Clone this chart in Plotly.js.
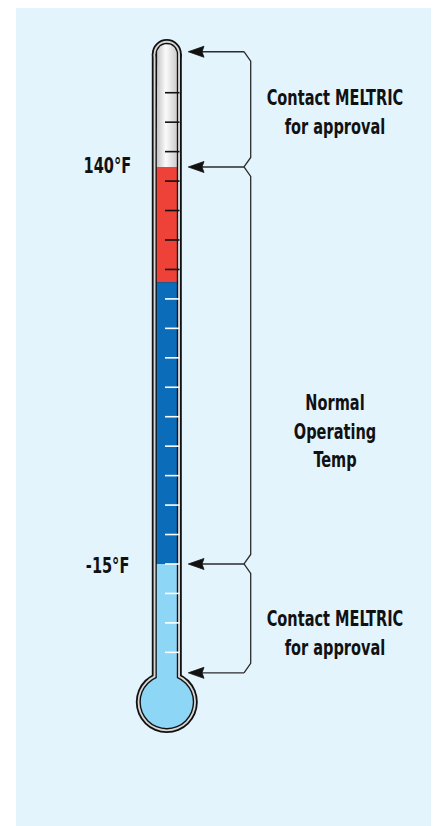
<!DOCTYPE html>
<html><head><meta charset="utf-8">
<script src="https://cdn.plot.ly/plotly-3.0.1.min.js"></script>
<style>
html,body{margin:0;padding:0;background:#fff;}
#chart{width:436px;height:826px;}
/* condensed look for the label type */
#chart .annotation-text{transform-box:fill-box;transform-origin:center;transform:scaleX(0.735);}
</style>
</head><body><div id="chart"></div>
<script>
// ---------------- data ----------------
const boundaryTemps = [140, -15];
const boundaryLabels = ['140°F', '-15°F'];
const bracketEdges = [185, 140, -15, -57.5];
const zoneLabels = ['Contact MELTRIC<br>for approval', 'Normal<br>Operating<br>Temp', 'Contact MELTRIC<br>for approval'];
const fluidTops = [140, 95, -15];          // top of red, blue, light-blue column (°F)
const fluidColors = ['#EE4137', '#0B6DB9', '#8ED6F6'];
const tickTemps = [169, 157.5, 146, 134.5, 123, 111.5, 100, 88.5, 77, 65.5, 54, 42.5, 31, 19.5, 8, -3.5, -15, -26.5, -38, -49.5];

// ---------------- geometry / style ----------------
const W = 436, H = 826;
const yRange = [-117.3, 205.2];
const PX = H / (yRange[1] - yRange[0]);   // pixels per °F
const cx = 166.8;
const capT = 184.1;     // centre of rounded top
const bulbT = -68.9;    // centre of bulb
const tubeR = [15, 13.2, 11.3, 10];
const bulbR = [31, 29.2, 27.4, 26];
const wallCols = ['#111111', '#d6d6d6', '#111111'];
const font = '"DejaVu Sans Condensed", "Liberation Sans Narrow", sans-serif';

const shapes = [];
// background panel
shapes.push({type:'rect', xref:'paper', yref:'paper', x0:16/W, x1:431/W, y0:0, y1:1-8/H,
  fillcolor:'#E3F4FC', line:{width:0}, layer:'below'});

function circ(tc, r, col) {
  return {type:'circle', xref:'x', yref:'y', x0:cx-r, x1:cx+r, y0:tc-r/PX, y1:tc+r/PX,
    fillcolor:col, line:{width:0}, layer:'below'};
}
function rect(x0, x1, y0, y1, col, layer) {
  return {type:'rect', xref:'x', yref:'y', x0, x1, y0, y1, fillcolor:col, line:{width:0}, layer: layer || 'below'};
}
// wall layers
for (let i = 0; i < 3; i++) {
  shapes.push(rect(cx - tubeR[i], cx + tubeR[i], bulbT, capT, wallCols[i]));
  shapes.push(circ(capT, tubeR[i], wallCols[i]));
  shapes.push(circ(bulbT, bulbR[i], wallCols[i]));
}
// fluid columns
const ir = tubeR[3];
const fluidBottoms = [fluidTops[1], fluidTops[2], bulbT];
for (let i = 0; i < fluidTops.length; i++) {
  shapes.push(rect(cx - ir, cx + ir, fluidBottoms[i], fluidTops[i], fluidColors[i]));
}
shapes.push(circ(bulbT, bulbR[3], fluidColors[2]));

// ticks
tickTemps.forEach(t => {
  const col = t > fluidTops[1] ? '#111111' : '#ffffff';
  shapes.push({type:'line', xref:'x', yref:'y', x0:165, x1:179.5, y0:t, y1:t,
    line:{color:col, width:1.6}, layer:'above'});
});

// brackets and arrows
const bx0 = 244, bx1 = 250.7, bd = 9.5 / PX;
for (let i = 0; i < bracketEdges.length - 1; i++) {
  const a = bracketEdges[i], b = bracketEdges[i + 1];
  shapes.push({type:'path', xref:'x', yref:'y',
    path:`M ${bx0},${a} L ${bx1},${a - bd} L ${bx1},${b + bd} L ${bx0},${b}`,
    line:{color:'#2b2b2b', width:1.3}, layer:'above'});
}
bracketEdges.forEach(t => {
  shapes.push({type:'line', xref:'x', yref:'y', x0:200, x1:bx0, y0:t, y1:t,
    line:{color:'#2b2b2b', width:1.3}, layer:'above'});
  const h = 5.5 / PX;
  shapes.push({type:'path', xref:'x', yref:'y',
    path:`M 188.3,${t} L 204,${t + h} L 202,${t} L 204,${t - h} Z`,
    fillcolor:'#111111', line:{color:'#111111', width:0.8}, layer:'above'});
});

// glass highlight in empty part of tube (gradient fill trace)
const gx = [], gy = [];
gx.push(cx - ir); gy.push(fluidTops[0]);
for (let k = 0; k <= 24; k++) {
  const ang = Math.PI - Math.PI * k / 24;
  gx.push(cx + ir * Math.cos(ang));
  gy.push(capT + ir * Math.sin(ang) / PX);
}
gx.push(cx + ir); gy.push(fluidTops[0]);
const glass = {
  type:'scatter', mode:'lines', x:gx, y:gy, fill:'toself', line:{width:0},
  fillcolor:'#e6e6e6',
  fillgradient:{type:'horizontal', colorscale:[[0,'#c4c4c4'],[0.45,'#fbfbfb'],[1,'#cdcdcd']]},
  hoverinfo:'skip', showlegend:false
};

// annotations
const annotations = [];
boundaryTemps.forEach((t, i) => {
  annotations.push({x:107, y:t, xref:'x', yref:'y', text:boundaryLabels[i], showarrow:false,
    xanchor:'center', yanchor:'middle', yshift: i === 0 ? 1 : -2,
    font:{family:font, size:22, color:'#111111', weight:'bold'}});
});
const labelAt = [161.5, 37, -42];
zoneLabels.forEach((s, i) => {
  annotations.push({x:334.5, y:labelAt[i], xref:'x', yref:'y', text:s, showarrow:false,
    xanchor:'center', yanchor:'middle', align:'center',
    font:{family:font, size:22, color:'#111111', weight:'bold'}});
});

const layout = {
  width:W, height:H, margin:{l:0, r:0, t:0, b:0},
  paper_bgcolor:'#ffffff', plot_bgcolor:'rgba(0,0,0,0)',
  xaxis:{range:[0, W], visible:false, fixedrange:true},
  yaxis:{range:yRange, visible:false, fixedrange:true},
  shapes, annotations, showlegend:false
};
Plotly.newPlot('chart', [glass], layout, {displayModeBar:false, staticPlot:true});
</script>
</body></html>
